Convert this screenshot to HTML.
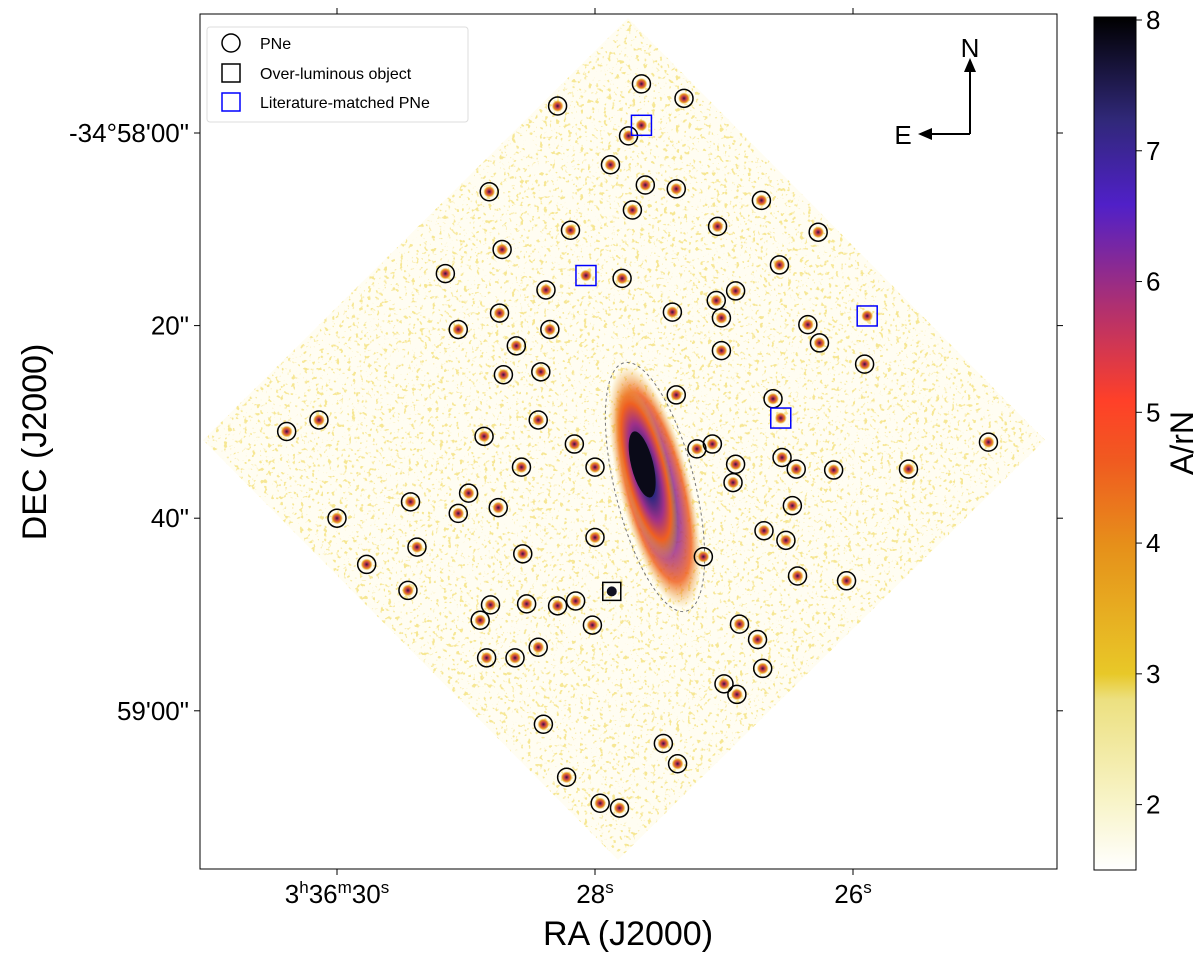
<!DOCTYPE html>
<html><head><meta charset="utf-8"><style>
html,body{margin:0;padding:0;background:#fff;}
svg{display:block;font-family:"Liberation Sans","DejaVu Sans",sans-serif;}
</style></head><body>
<svg id="chart" width="1200" height="960" viewBox="0 0 1200 960">
<defs>
  <linearGradient id="cbar" x1="0" y1="1" x2="0" y2="0">
    <stop offset="0" stop-color="#ffffff"/>
    <stop offset="0.08" stop-color="#f8f4c8"/>
    <stop offset="0.2" stop-color="#ece080"/>
    <stop offset="0.23" stop-color="#e8c828"/>
    <stop offset="0.38" stop-color="#e6901a"/>
    <stop offset="0.48" stop-color="#f05a20"/>
    <stop offset="0.55" stop-color="#ff4028"/>
    <stop offset="0.66" stop-color="#b03070"/>
    <stop offset="0.78" stop-color="#5020c8"/>
    <stop offset="0.88" stop-color="#302878"/>
    <stop offset="1" stop-color="#000000"/>
  </linearGradient>
  <radialGradient id="blob">
    <stop offset="0" stop-color="#301040"/>
    <stop offset="0.35" stop-color="#c03848"/>
    <stop offset="0.7" stop-color="#e89020"/>
    <stop offset="1" stop-color="#e8c040" stop-opacity="0"/>
  </radialGradient>
  <radialGradient id="gal">
    <stop offset="0" stop-color="#101020"/>
    <stop offset="0.3" stop-color="#302880"/>
    <stop offset="0.55" stop-color="#a03088"/>
    <stop offset="0.78" stop-color="#f06020"/>
    <stop offset="1" stop-color="#e8b030" stop-opacity="0"/>
  </radialGradient>
  <clipPath id="diam"><polygon points="628,18 1045,440 618,860 203,440"/></clipPath>
  <filter id="speck" x="0" y="0" width="100%" height="100%">
    <feTurbulence type="fractalNoise" baseFrequency="0.25" numOctaves="2" seed="4"/>
    <feColorMatrix type="matrix" values="0 0 0 0 0.9  0 0 0 0 0.72  0 0 0 0 0.15  0 0 0 9 -5.4"/>
  </filter>
</defs>
<rect x="200" y="14" width="857" height="855" fill="#fff" stroke="#000" stroke-width="1"/>
<g clip-path="url(#diam)">
  <polygon points="628,18 1045,440 618,860 203,440" fill="#fffdf2"/>
  <rect x="200" y="14" width="857" height="855" filter="url(#speck)" opacity="0.7"/>
</g>
<g transform="rotate(-14 655 487)">
  <ellipse cx="655" cy="487" rx="36" ry="125" fill="url(#gal)" opacity="0.85"/>
  <ellipse cx="650" cy="470" rx="24" ry="90" fill="url(#gal)"/>
  <ellipse cx="648" cy="462" rx="11" ry="34" fill="#0a0a18"/>
  <ellipse cx="655" cy="487" rx="40" ry="128" fill="none" stroke="#777" stroke-width="1" stroke-dasharray="3,3"/>
</g>
<g id="marks"></g>
<g id="axes"></g>
<g stroke="#000" stroke-width="2" fill="#000">
  <line x1="970" y1="134" x2="970" y2="70"/><polygon points="964,72 976,72 970,58" stroke="none"/>
  <line x1="970" y1="134" x2="930" y2="134"/><polygon points="932,128 932,140 918,134" stroke="none"/>
  <text x="970" y="57" font-size="26" text-anchor="middle" stroke="none">N</text>
  <text x="903" y="144" font-size="26" text-anchor="middle" stroke="none">E</text>
</g>
<g>
  <rect x="207" y="27" width="261" height="95" fill="#fff" fill-opacity="0.85" stroke="#ddd" rx="3"/>
  <g><circle cx="231" cy="43" r="9" fill="none" stroke="#000" stroke-width="1.5"/><text x="260" y="49" font-size="16">PNe</text></g>
  <g><rect x="222" y="64" width="18" height="18" fill="none" stroke="#000" stroke-width="1.5"/><text x="260" y="79" font-size="16">Over-luminous object</text></g>
  <g><rect x="222" y="93" width="18" height="18" fill="none" stroke="#00f" stroke-width="1.5"/><text x="260" y="108" font-size="16">Literature-matched PNe</text></g>
</g>
<g>
  <rect x="1094" y="17" width="42" height="853" fill="url(#cbar)" stroke="#000" stroke-width="1"/>
  <g id="cbticks"></g>
  <text transform="translate(1193,443) rotate(-90)" font-size="32" text-anchor="middle">A/rN</text>
</g>
<text x="628" y="945" font-size="34" text-anchor="middle">RA (J2000)</text>
<text transform="translate(46,442) rotate(-90)" font-size="34" text-anchor="middle">DEC (J2000)</text>
</svg>
<script>
var pneRA=[27.64,28.29,27.31,27.74,27.88,27.61,27.37,28.82,27.71,26.71,27.05,28.19,26.27,28.72,29.16,26.57,27.79,28.38,26.91,27.06,28.74,27.40,27.02,26.35,29.06,28.35,28.61,27.02,26.26,28.71,28.42,25.91,27.37,26.62,30.14,30.39,28.44,28.86,28.16,27.09,27.21,24.95,28.57,28.00,26.91,26.55,26.44,26.15,25.57,29.43,28.98,26.93,26.47,28.75,29.06,30.00,26.69,28.00,26.52,29.38,28.56,27.16,29.77,26.43,26.05,29.45,28.81,28.53,28.29,28.15,28.89,28.02,26.88,26.74,28.44,28.84,28.62,26.70,27.00,26.90,28.40,27.47,27.36,28.22,27.96,27.81];
var pneDec=[-5.1,-2.8,-3.6,0.3,3.3,5.4,5.8,6.1,8.0,7.0,9.7,10.1,10.3,12.1,14.6,13.7,15.1,16.3,16.4,17.4,18.7,18.6,19.2,19.9,20.4,20.4,22.1,22.6,21.8,25.1,24.8,24.0,27.2,27.6,29.8,31.0,29.8,31.5,32.3,32.3,32.8,32.1,34.7,34.7,34.4,33.7,34.9,35.0,34.9,38.3,37.4,36.3,38.7,38.9,39.5,40.0,41.3,42.0,42.3,43.0,43.7,44.0,44.8,46.0,46.5,47.5,49.0,48.9,49.1,48.6,50.6,51.1,51.0,52.6,53.4,54.5,54.5,55.6,57.2,58.3,61.4,63.4,65.5,66.9,69.6,70.1];
var litRA=[27.64,28.07,25.89,26.56];
var litDec=[-0.8,14.8,19.0,29.6];
var overRA=[27.87];
var overDec=[47.6];
var xTickVals=[30,28,26];
var xTickLabels=["3<tspan font-size='17' dy='-10'>h</tspan><tspan dy='10'>36</tspan><tspan font-size='17' dy='-10'>m</tspan><tspan dy='10'>30</tspan><tspan font-size='17' dy='-10'>s</tspan>","28<tspan font-size='17' dy='-10'>s</tspan>","26<tspan font-size='17' dy='-10'>s</tspan>"];
var yTickVals=[0,20,40,60];
var yTickLabels=["-34°58'00\"","20\"","40\"","59'00\""];
var cbVals=[2,3,4,5,6,7,8];
function xS(ra){return 595-(ra-28)*129;}
function yS(d){return 133+d*9.63;}
function cbY(v){return 870-(v-1.5)*(850/6.5);}
var NS="http://www.w3.org/2000/svg";
function mk(t,a,p){var e=document.createElementNS(NS,t);for(var k in a)e.setAttribute(k,a[k]);p.appendChild(e);return e;}
var marks=document.getElementById('marks');
for(var i=0;i<pneRA.length;i++){
  var g=mk('g',{},marks);
  
  
  mk('circle',{cx:xS(pneRA[i]),cy:yS(pneDec[i]),r:6,fill:'url(#blob)'},g);
  mk('circle',{cx:xS(pneRA[i]),cy:yS(pneDec[i]),r:9,fill:'none',stroke:'#000','stroke-width':1.5},g);
}
for(var i=0;i<litRA.length;i++){
  mk('circle',{cx:xS(litRA[i]),cy:yS(litDec[i]),r:6,fill:'url(#blob)'},marks);
  var r=mk('rect',{x:xS(litRA[i])-10,y:yS(litDec[i])-10,width:20,height:20,fill:'none',stroke:'#00f','stroke-width':1.5},marks);
  
  
}
for(var i=0;i<overRA.length;i++){
  mk('circle',{cx:xS(overRA[i]),cy:yS(overDec[i]),r:5,fill:'#101020'},marks);
  var r=mk('rect',{x:xS(overRA[i])-9,y:yS(overDec[i])-9,width:18,height:18,fill:'none',stroke:'#000','stroke-width':1.5},marks);
  
  
}
var ax=document.getElementById('axes');
for(var i=0;i<xTickVals.length;i++){
  var x=xS(xTickVals[i]);
  mk('line',{x1:x,x2:x,y1:869,y2:875,stroke:'#000'},ax);
  mk('line',{x1:x,x2:x,y1:14,y2:8,stroke:'#000'},ax);
  var t=mk('text',{x:x,y:903,'font-size':26,'text-anchor':'middle'},ax);
  t.innerHTML=xTickLabels[i];
  
  
}
for(var i=0;i<yTickVals.length;i++){
  var y=yS(yTickVals[i]);
  if(y>869)continue;
  mk('line',{x1:200,x2:194,y1:y,y2:y,stroke:'#000'},ax);
  mk('line',{x1:1057,x2:1063,y1:y,y2:y,stroke:'#000'},ax);
  var t=mk('text',{x:189,y:y+9,'font-size':26,'text-anchor':'end'},ax);
  t.textContent=yTickLabels[i];
  
  
}
var cb=document.getElementById('cbticks');
for(var i=0;i<cbVals.length;i++){
  var y=cbY(cbVals[i]);
  mk('line',{x1:1136,x2:1142,y1:y,y2:y,stroke:'#000'},cb);
  var t=mk('text',{x:1146,y:y+9,'font-size':26},cb);
  t.textContent=cbVals[i];
  
  
}
</script>
</body></html>
